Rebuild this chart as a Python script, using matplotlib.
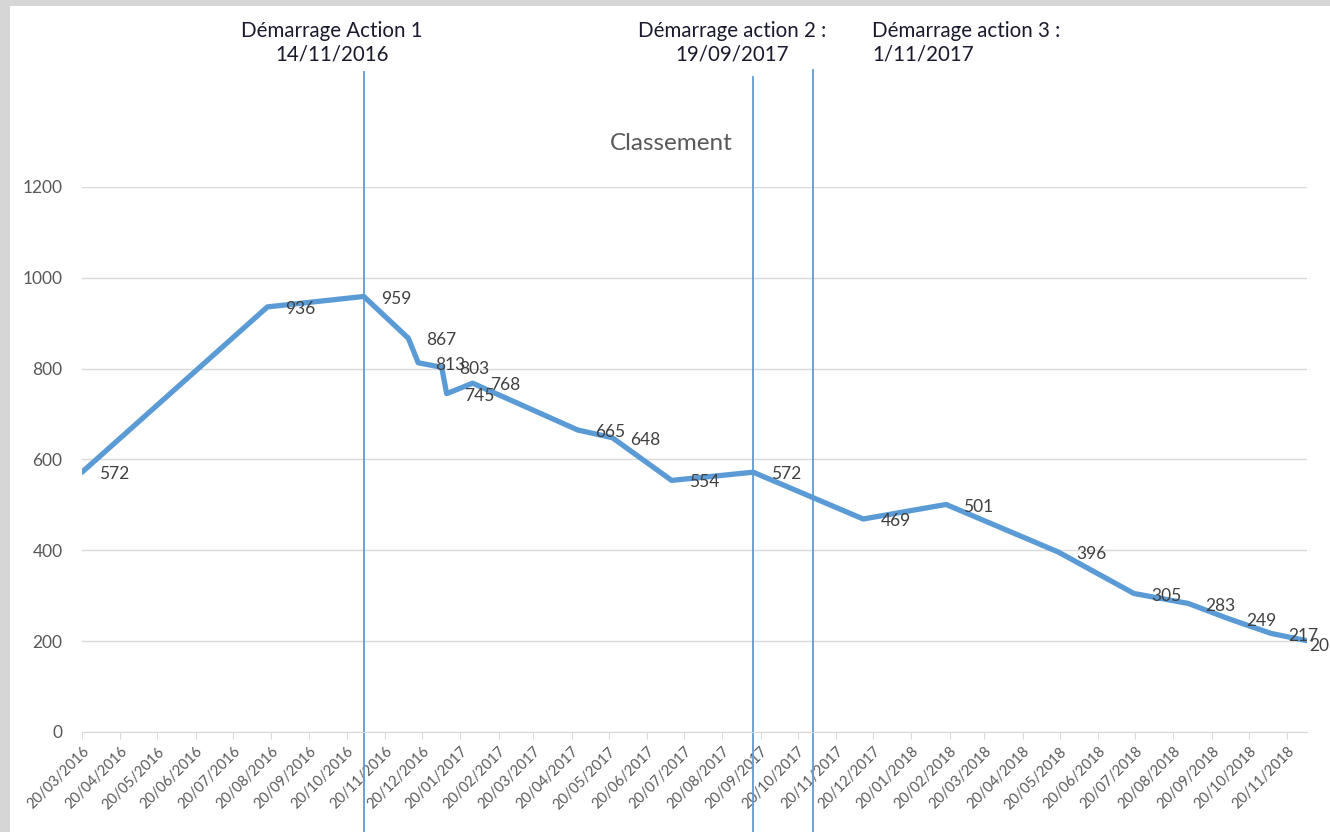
import matplotlib
matplotlib.use('Agg')
import matplotlib.pyplot as plt
import matplotlib.dates as mdates
import matplotlib.transforms as mtransforms
from matplotlib.patches import Rectangle
import pandas as pd

# data
dates = ['2016-03-20', '2016-08-17', '2016-11-03', '2016-12-09', '2016-12-17',
         '2017-01-05', '2017-01-09', '2017-01-30', '2017-04-25', '2017-05-23',
         '2017-07-10', '2017-09-14', '2017-12-12', '2018-02-17', '2018-05-19',
         '2018-07-19', '2018-09-01', '2018-10-04', '2018-11-07', '2018-12-06']
rank = [572, 936, 959, 867, 813, 803, 745, 768, 665, 648,
        554, 572, 469, 501, 396, 305, 283, 249, 217, 201]

action_dates = ['2016-11-03', '2017-09-14', '2017-11-01']
action_texts = ['Démarrage Action 1\n14/11/2016',
                'Démarrage action 2 :\n19/09/2017',
                'Démarrage action 3 :\n1/11/2017']

x = pd.to_datetime(dates)
xa = pd.to_datetime(action_dates)

plt.rcParams['font.family'] = ['Lato', 'DejaVu Sans']

W, H = 1330, 832
fig = plt.figure(figsize=(W / 100, H / 100), dpi=100, facecolor='#d6d6d6')
fig.patches.append(Rectangle((10 / W, 0), 1, 1 - 6 / H, transform=fig.transFigure,
                             facecolor='white', edgecolor='none', zorder=-5))

ax = fig.add_axes([82 / W, 1 - 732 / H, (1307 - 82) / W, (732 - 187) / H])
ax.set_facecolor('none')

line_col = '#5b9bd5'
ax.plot(x, rank, color=line_col, lw=3.8, solid_joinstyle='round',
        solid_capstyle='round', zorder=3)

for i, (d, v) in enumerate(zip(x, rank)):
    # Excel pushes the last label back inside the chart area
    dx = 1.5 if i == len(rank) - 1 else 12.5
    dy = -4 if i == len(rank) - 1 else -1.5
    ax.annotate(str(v), (d, v), xytext=(dx, dy), textcoords='offset points',
                ha='left', va='center', fontsize=12.5, color='#404040',
                annotation_clip=False, zorder=4)

ax.set_ylim(0, 1200)
ax.set_yticks(range(0, 1201, 200))
ax.set_xlim(pd.Timestamp('2016-03-20'), pd.Timestamp('2018-12-06'))
ax.grid(axis='y', color='#d9d9d9', lw=1)
ax.set_axisbelow(True)

ax.xaxis.set_major_locator(mdates.MonthLocator(bymonthday=20))
ax.xaxis.set_major_formatter(mdates.DateFormatter('%d/%m/%Y'))
for lbl in ax.get_xticklabels():
    lbl.set_rotation(45)
    lbl.set_ha('right')
    lbl.set_rotation_mode('anchor')
ax.tick_params(axis='x', colors='#d9d9d9', labelcolor='#595959', labelsize=10.5,
               length=5, pad=4)
ax.tick_params(axis='y', length=0, labelcolor='#595959', labelsize=12.5, pad=14)

for s in ['top', 'right', 'left']:
    ax.spines[s].set_visible(False)
ax.spines['bottom'].set_color('#d9d9d9')

# vertical markers for the actions, running past the plot area
trans = mtransforms.blended_transform_factory(ax.transData, fig.transFigure)
tops = [1 - 72 / H, 1 - 77 / H, 1 - 70 / H]
for d, t in zip(xa, tops):
    ax.plot([d, d], [0, t], transform=trans, color=line_col, lw=1.3,
            clip_on=False, zorder=2)

fig.text(332 / W, 1 - 43 / H, action_texts[0], ha='center', va='center',
         fontsize=14.8, color='#1a1a2e', linespacing=1.2)
fig.text(732 / W, 1 - 43 / H, action_texts[1], ha='center', va='center',
         fontsize=14.8, color='#1a1a2e', linespacing=1.2)
fig.text(872 / W, 1 - 43 / H, action_texts[2], ha='left', va='center',
         fontsize=14.8, color='#1a1a2e', linespacing=1.2)

fig.text(671 / W, 1 - 144 / H, 'Classement', ha='center', va='center',
         fontsize=17.5, color='#595959')

fig.savefig('out.png', dpi=100, facecolor=fig.get_facecolor())
